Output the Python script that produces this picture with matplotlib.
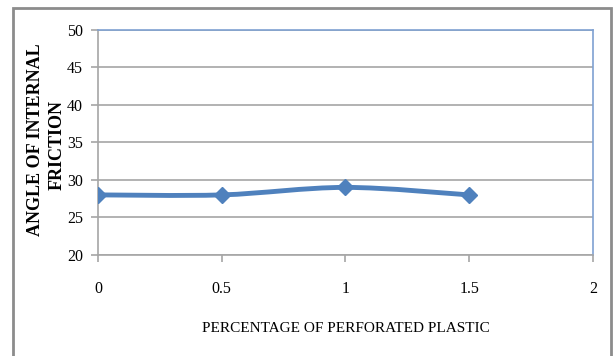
import matplotlib.pyplot as plt
from matplotlib.path import Path
from matplotlib.patches import PathPatch, Rectangle
import numpy as np

# perforated plastic content (%) vs. angle of internal friction (deg)
percent = [0, 0.5, 1, 1.5]
friction = [28, 28, 29, 28]
x_ticks = [0, 0.5, 1, 1.5, 2]
x_tick_labels = ["0", "0.5", "1", "1.5", "2"]
y_ticks = [20, 25, 30, 35, 40, 45, 50]
y_title = ["ANGLE OF INTERNAL", "FRICTION"]

line_color = "#4F81BD"
grid_color = "#A6A6A6"
plt.rcParams["font.family"] = "Liberation Serif"


def smooth_path(xs, ys, t=1 / 6):
    # Catmull-Rom style bezier segments through the points (Excel "smoothed line")
    pts = np.column_stack([xs, ys]).astype(float)
    verts = [pts[0]]
    codes = [Path.MOVETO]
    n = len(pts)
    for i in range(n - 1):
        p0 = pts[i - 1] if i > 0 else pts[i]
        p1, p2 = pts[i], pts[i + 1]
        p3 = pts[i + 2] if i + 2 < n else pts[i + 1]
        c1 = p1 + (p2 - p0) * t
        c2 = p2 - (p3 - p1) * t
        verts += [c1, c2, p2]
        codes += [Path.CURVE4] * 3
    return Path(verts, codes)


W, H = 613, 356
fig = plt.figure(figsize=(W / 100, H / 100), dpi=100)
ax = fig.add_axes([0.160, 0.284, 0.807, 0.632])

# outer chart border
fig.patches.append(Rectangle((13 / W, -0.05), 598 / W, 1.05 - 8 / H,
                             transform=fig.transFigure, fill=False,
                             edgecolor="#8C8C8C", linewidth=2))

ax.set_xlim(0, 2)
ax.set_ylim(20, 50)
ax.set_xticks(x_ticks)
ax.set_xticklabels(x_tick_labels)
ax.set_yticks(y_ticks)
ax.yaxis.grid(True, color=grid_color, linewidth=1.2)
ax.set_axisbelow(True)

for side in ["left", "bottom"]:
    ax.spines[side].set_color(grid_color)
    ax.spines[side].set_linewidth(1.2)
for side in ["top", "right"]:
    ax.spines[side].set_color("#7FA1D2")
    ax.spines[side].set_linewidth(1.2)

ax.tick_params(axis="both", length=5, width=1.2, color=grid_color,
               labelsize=11.5, direction="out")
ax.tick_params(axis="x", pad=14)
ax.tick_params(axis="y", pad=6)

ax.add_patch(PathPatch(smooth_path(percent, friction), facecolor="none",
                       edgecolor=line_color, linewidth=3.5, zorder=3))
ax.plot(percent, friction, linestyle="none", marker="D", markersize=8,
        color=line_color, zorder=4)

ax.set_xlabel("PERCENTAGE OF PERFORATED PLASTIC", fontsize=11, labelpad=18)

# two-line rotated axis title, each line placed on its own
fig.text(36 / W, 1 - 140 / H, y_title[0], rotation=90, ha="center",
         va="center", fontsize=13, fontweight="bold")
fig.text(57 / W, 1 - 145 / H, y_title[1], rotation=90, ha="center",
         va="center", fontsize=13, fontweight="bold")

fig.savefig("out.png", dpi=100)
